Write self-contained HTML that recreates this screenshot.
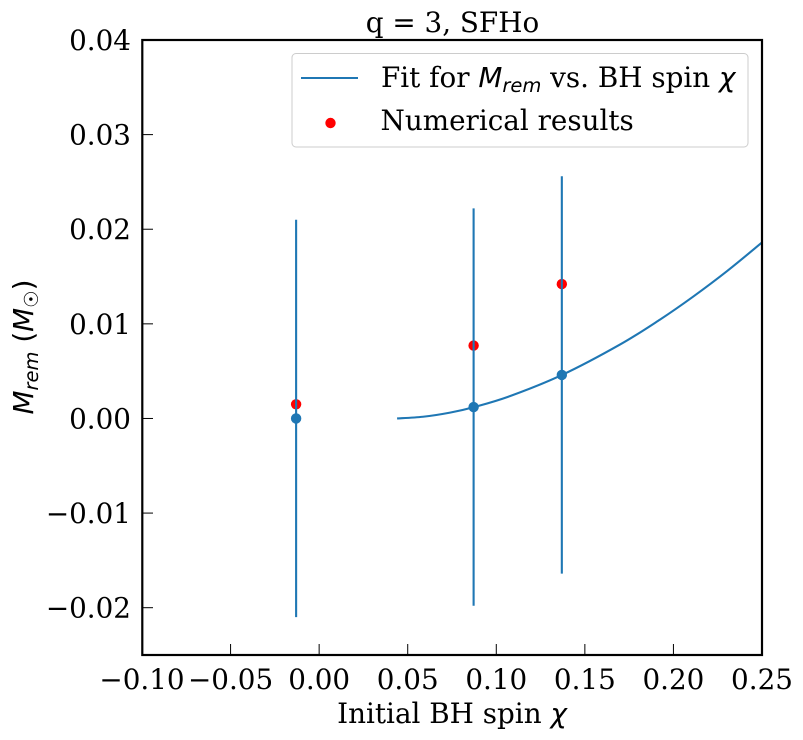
<!DOCTYPE html>
<html>
<head>
<meta charset="utf-8">
<style>
html,body{margin:0;padding:0;background:#fff;}
svg{display:block;}
text{font-family:"DejaVu Serif","Liberation Serif",serif;fill:#000;}
.math{font-family:"DejaVu Sans","Liberation Sans",sans-serif;font-style:italic;}
.upright{font-family:"DejaVu Sans","Liberation Sans",sans-serif;font-style:normal;}
</style>
</head>
<body>
<svg id="chart" width="803" height="740" viewBox="0 0 803 740" xmlns="http://www.w3.org/2000/svg">
  <rect x="0" y="0" width="803" height="740" fill="#fff"/>
  <g id="ticks"></g>
  <g id="marks"></g>
  <rect x="142.3" y="40" width="619.7" height="615" fill="none" stroke="#000" stroke-width="2.2"/>
  <text x="452.5" y="32" font-size="27.8" text-anchor="middle">q = 3, SFHo</text>
  <text x="452" y="723" font-size="27.8" text-anchor="middle">Initial BH spin <tspan class="math">χ</tspan></text>
  <text transform="translate(33 347) rotate(-90)" font-size="27.8" text-anchor="middle"><tspan class="math">M</tspan><tspan class="math" font-size="19.5" dy="5">rem</tspan><tspan class="upright" dy="-5"> (</tspan><tspan class="math">M</tspan><tspan class="upright" font-size="19.5" dy="5">☉</tspan><tspan class="upright" dy="-5">)</tspan></text>
  <g>
    <rect x="292" y="53.5" width="456" height="93.5" rx="4" fill="#fff" fill-opacity="0.8" stroke="#ccc" stroke-width="1"/>
    <line x1="301" y1="78" x2="358" y2="78" stroke="#1f77b4" stroke-width="2.1"/>
    <text x="381" y="87" font-size="27.8">Fit for <tspan class="math">M</tspan><tspan class="math" font-size="19.5" dy="5">rem</tspan><tspan dy="-5"> vs. BH spin </tspan><tspan class="math">χ</tspan></text>
    <circle cx="330.5" cy="123" r="5.2" fill="#f00"/>
    <text x="380.5" y="130" font-size="27.8">Numerical results</text>
  </g>
</svg>
<script>
var xTickValues = [-0.10, -0.05, 0.00, 0.05, 0.10, 0.15, 0.20, 0.25];
var yTickValues = [-0.02, -0.01, 0.00, 0.01, 0.02, 0.03, 0.04];
var fitSpin = [0.044, 0.0586, 0.0739, 0.0874, 0.1077, 0.1371, 0.1698, 0.1924, 0.211, 0.2303, 0.25];
var fitMass = [0.00000, 0.00018, 0.00062, 0.00120, 0.00236, 0.00460, 0.00781, 0.01045, 0.01286, 0.01558, 0.01860];
var pointSpin = [-0.013, 0.0872, 0.137];
var pointMass = [0.0000, 0.0012, 0.0046];
var pointError = [0.021, 0.021, 0.021];
var numericalMass = [0.0015, 0.0077, 0.0142];

var NS = 'http://www.w3.org/2000/svg';
function xScale(v) { return 142 + (v + 0.10) / 0.35 * 620; }
function yScale(v) { return 655 - (v + 0.025) / 0.065 * 615; }
function make(parent, tag, attrs) {
  var el = document.createElementNS(NS, tag);
  for (var k in attrs) { el.setAttribute(k, attrs[k]); }
  parent.appendChild(el);
  return el;
}
var ticks = document.getElementById('ticks');
var marks = document.getElementById('marks');

xTickValues.forEach(function (v) {
  var x = xScale(v);
  var t = make(ticks, 'line', {x1: x, y1: 655, x2: x, y2: 644, stroke: '#000', 'stroke-width': 1});
  
  
  var l = make(ticks, 'text', {x: x, y: 689, 'font-size': 27.8, 'text-anchor': 'middle'});
  
  
  l.textContent = (v < 0 ? '\u2212' : '') + Math.abs(v).toFixed(2);
});
yTickValues.forEach(function (v) {
  var y = yScale(v);
  var t = make(ticks, 'line', {x1: 142, y1: y, x2: 153, y2: y, stroke: '#000', 'stroke-width': 1});
  
  
  var l = make(ticks, 'text', {x: 131, y: y + 10, 'font-size': 27.8, 'text-anchor': 'end'});
  
  
  l.textContent = (v < 0 ? '\u2212' : '') + Math.abs(v).toFixed(2);
});

// Smooth path through the read fit samples (Catmull-Rom to Bezier)
var px = fitSpin.map(xScale);
var py = fitMass.map(yScale);
var d = 'M' + px[0].toFixed(2) + ' ' + py[0].toFixed(2);
for (var i = 0; i < px.length - 1; i++) {
  var a = Math.max(i - 1, 0), b = Math.min(i + 2, px.length - 1);
  d += ' C' + (px[i] + (px[i + 1] - px[a]) / 6).toFixed(2) + ' ' + (py[i] + (py[i + 1] - py[a]) / 6).toFixed(2) +
       ' ' + (px[i + 1] - (px[b] - px[i]) / 6).toFixed(2) + ' ' + (py[i + 1] - (py[b] - py[i]) / 6).toFixed(2) +
       ' ' + px[i + 1].toFixed(2) + ' ' + py[i + 1].toFixed(2);
}
var fit = make(marks, 'path', {d: d, fill: 'none', stroke: '#1f77b4', 'stroke-width': 2.1});



pointSpin.forEach(function (s, i) {
  var x = xScale(s);
  var dot = make(marks, 'circle', {cx: x, cy: yScale(pointMass[i]), r: 5.2, fill: '#1f77b4'});
  
  
  var red = make(marks, 'circle', {cx: x, cy: yScale(numericalMass[i]), r: 5.2, fill: '#f00'});
  
  
});
pointSpin.forEach(function (s, i) {
  var x = xScale(s);
  var bar = make(marks, 'line', {x1: x, y1: yScale(pointMass[i] + pointError[i]), x2: x, y2: yScale(pointMass[i] - pointError[i]), stroke: '#1f77b4', 'stroke-width': 2.1});
  
  
});
</script>
</body>
</html>
